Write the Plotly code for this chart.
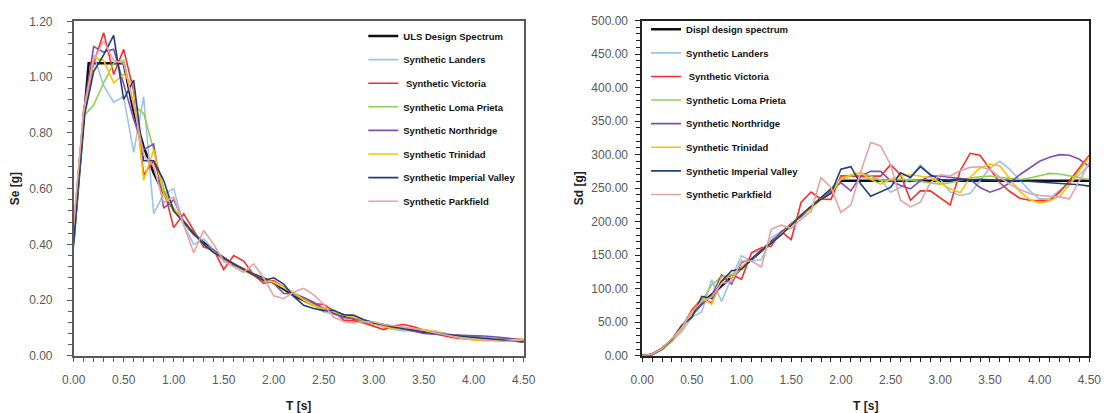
import plotly.graph_objects as go

# ---------------- data ----------------
T_syn = [0.0, 0.1, 0.2, 0.3, 0.4, 0.5, 0.6, 0.7, 0.8, 0.9, 1.0, 1.1, 1.2, 1.3, 1.4, 1.5,
         1.6, 1.7, 1.8, 1.9, 2.0, 2.1, 2.2, 2.3, 2.4, 2.5, 2.6, 2.7, 2.8, 2.9, 3.0, 3.1,
         3.2, 3.3, 3.4, 3.5, 3.6, 3.7, 3.8, 3.9, 4.0, 4.1, 4.2, 4.3, 4.4, 4.5]

T_uls = [0.0, 0.15, 0.5, 0.6, 0.7, 0.8, 0.9, 1.0, 1.2, 1.4, 1.6, 1.8, 2.0, 2.2, 2.4, 2.6,
         2.8, 3.0, 3.25, 3.5, 3.75, 4.0, 4.25, 4.5]
Se_uls = [0.42, 1.05, 1.05, 0.875, 0.75, 0.656, 0.583, 0.525, 0.4375, 0.375, 0.328, 0.292,
          0.2625, 0.217, 0.182, 0.155, 0.134, 0.117, 0.0994, 0.0857, 0.0747, 0.0656, 0.0581, 0.0519]

T_displ = [0.0, 0.05, 0.1, 0.15, 0.2, 0.3, 0.4, 0.5, 2.0, 4.5]
Sd_displ = [0.0, 0.39, 2.09, 5.87, 10.44, 23.5, 41.7, 65.2, 261.0, 261.0]

Se_landers = [0.45, 0.88, 1.08, 0.97, 0.91, 0.93, 0.73, 0.93, 0.51, 0.58, 0.60, 0.47, 0.40, 0.42, 0.38, 0.34,
              0.33, 0.31, 0.29, 0.27, 0.265, 0.245, 0.221, 0.201, 0.184, 0.157, 0.149, 0.147, 0.146, 0.129,
              0.118, 0.102, 0.094, 0.089, 0.091, 0.092, 0.090, 0.082, 0.073, 0.065, 0.059, 0.056, 0.056,
              0.056, 0.056, 0.057]
Se_victoria = [0.45, 0.87, 1.05, 1.16, 1.01, 1.10, 0.95, 0.65, 0.70, 0.60, 0.46, 0.51, 0.45, 0.39, 0.38, 0.31,
               0.36, 0.34, 0.29, 0.26, 0.27, 0.245, 0.223, 0.204, 0.187, 0.184, 0.161, 0.128, 0.126, 0.118,
               0.106, 0.094, 0.108, 0.112, 0.104, 0.092, 0.080, 0.072, 0.065, 0.061, 0.058, 0.055, 0.056,
               0.057, 0.058, 0.059]
Se_loma = [0.39, 0.86, 0.90, 0.98, 1.05, 1.06, 0.90, 0.87, 0.74, 0.60, 0.52, 0.48, 0.44, 0.40, 0.375, 0.35,
           0.33, 0.31, 0.29, 0.275, 0.265, 0.245, 0.227, 0.204, 0.182, 0.169, 0.157, 0.145, 0.133, 0.123,
           0.114, 0.108, 0.103, 0.098, 0.093, 0.088, 0.083, 0.078, 0.073, 0.070, 0.067, 0.065, 0.062,
           0.058, 0.055, 0.052]
Se_northridge = [0.45, 0.88, 1.11, 1.09, 1.10, 0.97, 0.85, 0.74, 0.76, 0.53, 0.56, 0.48, 0.44, 0.40, 0.38, 0.35,
                 0.33, 0.31, 0.29, 0.275, 0.26, 0.224, 0.223, 0.209, 0.192, 0.168, 0.151, 0.137, 0.134, 0.128,
                 0.120, 0.111, 0.104, 0.097, 0.087, 0.080, 0.077, 0.076, 0.075, 0.074, 0.073, 0.071, 0.068,
                 0.065, 0.061, 0.056]
Se_trinidad = [0.47, 0.87, 1.07, 1.06, 0.98, 1.01, 0.97, 0.63, 0.74, 0.58, 0.53, 0.48, 0.44, 0.40, 0.37, 0.35,
               0.33, 0.305, 0.29, 0.27, 0.265, 0.246, 0.227, 0.200, 0.179, 0.169, 0.160, 0.149, 0.138, 0.127,
               0.115, 0.104, 0.095, 0.098, 0.097, 0.094, 0.088, 0.078, 0.068, 0.062, 0.057, 0.055, 0.054,
               0.055, 0.057, 0.059]
Se_imperial = [0.40, 0.85, 1.02, 1.08, 1.15, 0.92, 0.99, 0.70, 0.70, 0.63, 0.52, 0.48, 0.44, 0.40, 0.37, 0.35,
               0.33, 0.31, 0.29, 0.27, 0.28, 0.257, 0.213, 0.181, 0.170, 0.162, 0.163, 0.147, 0.145, 0.129,
               0.118, 0.110, 0.103, 0.097, 0.092, 0.086, 0.081, 0.077, 0.073, 0.069, 0.065, 0.062, 0.059,
               0.056, 0.053, 0.050]
Se_parkfield = [0.47, 0.88, 1.06, 1.13, 1.06, 1.05, 0.90, 0.72, 0.68, 0.55, 0.57, 0.47, 0.37, 0.45, 0.40, 0.34,
                0.32, 0.30, 0.33, 0.28, 0.215, 0.205, 0.229, 0.242, 0.219, 0.184, 0.138, 0.123, 0.118, 0.123,
                0.121, 0.112, 0.108, 0.104, 0.098, 0.091, 0.083, 0.075, 0.069, 0.064, 0.060, 0.057, 0.054,
                0.051, 0.054, 0.057]

Sd_landers = [0, 2.2, 10.7, 21.7, 36.2, 57.8, 65.3, 113.3, 81.1, 116.8, 149.1, 141.3, 143.1, 176.4, 185.1, 190.1,
              209.9, 222.6, 233.5, 242.2, 263.4, 268, 266, 264, 263, 244, 251, 266, 285, 270, 263, 244, 239,
              242, 261, 280, 290, 278, 262, 246, 234, 234, 247, 257, 270, 285]
Sd_victoria = [0, 2.2, 10.4, 25.9, 40.2, 68.3, 85.0, 79.2, 111.3, 120.8, 114.3, 153.4, 161.0, 163.8, 185.1, 173.3,
               229.0, 244.2, 233.5, 233.2, 268.4, 268, 268, 268, 268, 285, 270, 232, 246, 246, 236, 225, 276,
               302, 299, 279, 258, 245, 235, 232, 231, 231, 244, 261, 280, 299]
Sd_loma = [0, 2.1, 8.9, 21.9, 41.7, 65.8, 80.6, 106.0, 117.7, 120.8, 129.2, 144.3, 157.4, 168.0, 182.7, 195.7,
           209.9, 222.6, 233.5, 246.7, 263.4, 268, 273, 268, 261, 262, 263, 262, 260, 258, 256, 258, 262,
           265, 267, 268, 266, 264, 263, 265, 268, 272, 271, 268, 265, 263]
Sd_northridge = [0, 2.2, 11.0, 24.4, 43.7, 60.2, 76.1, 90.1, 120.8, 106.7, 139.2, 144.3, 157.4, 168.0, 185.1, 195.7,
                 209.9, 222.6, 233.5, 246.7, 258.4, 246, 268, 275, 275, 261, 254, 249, 261, 268, 268, 266, 265,
                 263, 251, 244, 249, 258, 270, 280, 290, 296, 300, 299, 293, 282]
Sd_trinidad = [0, 2.2, 10.6, 23.7, 39.0, 62.7, 86.8, 76.7, 117.7, 116.8, 131.7, 144.3, 157.4, 168.0, 180.2, 195.7,
               209.9, 219.1, 233.5, 242.2, 263.4, 270, 273, 263, 256, 263, 268, 270, 268, 266, 258, 249, 243,
               266, 280, 286, 283, 264, 245, 233, 228, 231, 238, 255, 276, 297]
Sd_imperial = [0, 2.1, 10.1, 24.2, 45.7, 57.1, 88.6, 85.3, 111.3, 126.8, 129.2, 144.3, 157.4, 168.0, 180.2, 195.7,
               209.9, 222.6, 233.5, 242.2, 278.3, 282, 256, 238, 244, 251, 273, 266, 282, 270, 263, 262, 263,
               262, 263, 262, 262, 261, 261, 260, 260, 259, 258, 257, 255, 253]
Sd_parkfield = [0, 2.2, 10.5, 25.3, 42.1, 65.2, 80.6, 87.7, 108.1, 110.7, 141.6, 141.3, 132.4, 189.0, 194.8, 190.1,
                203.6, 215.5, 265.7, 251.2, 213.7, 225, 275, 318, 313, 285, 232, 222, 229, 258, 270, 268, 276,
                281, 282, 278, 266, 256, 248, 242, 239, 238, 237, 234, 260, 288]

names = ["Synthetic Landers", " Synthetic Victoria", "Synthetic Loma Prieta", "Synthetic Northridge",
         "Synthetic Trinidad", "Synthetic Imperial Valley", "Synthetic Parkfield"]
colors = ["#9DC3E6", "#FF2A2A", "#92D050", "#7F4FB5", "#FFC000", "#203F7A", "#E6A3A3"]
se_series = [Se_landers, Se_victoria, Se_loma, Se_northridge, Se_trinidad, Se_imperial, Se_parkfield]
sd_series = [Sd_landers, Sd_victoria, Sd_loma, Sd_northridge, Sd_trinidad, Sd_imperial, Sd_parkfield]

# ---------------- figure ----------------
fig = go.Figure()
W, H = 1116, 413

fig.add_trace(go.Scatter(x=T_uls, y=Se_uls, mode="lines", name="<b>ULS Design Spectrum</b>",
                         line=dict(color="#111111", width=2.5), xaxis="x", yaxis="y",
                         legend="legend", legendgroup="a0"))
for i, (nm, c, s) in enumerate(zip(names, colors, se_series)):
    fig.add_trace(go.Scatter(x=T_syn, y=s, mode="lines", name="<b>%s</b>" % nm,
                             line=dict(color=c, width=1.6), xaxis="x", yaxis="y",
                             legend="legend", legendgroup="a%d" % (i + 1)))

fig.add_trace(go.Scatter(x=T_displ, y=Sd_displ, mode="lines", name="<b>Displ design spectrum</b>",
                         line=dict(color="#111111", width=2.5), xaxis="x2", yaxis="y2",
                         legend="legend2", legendgroup="b0"))
for i, (nm, c, s) in enumerate(zip(names, colors, sd_series)):
    fig.add_trace(go.Scatter(x=T_syn, y=s, mode="lines", name="<b>%s</b>" % nm,
                             line=dict(color=c, width=1.6), xaxis="x2", yaxis="y2",
                             legend="legend2", legendgroup="b%d" % (i + 1)))

tickfont = dict(family="Liberation Sans, Arial, sans-serif", size=12, color="#595959")
titlefont = dict(family="Liberation Sans Narrow, Liberation Sans, Arial, sans-serif", size=12, color="#222222")
legfont = dict(family="Liberation Sans Narrow, Liberation Sans, Arial, sans-serif", size=9.5, color="#111111")

def xax(domain, anchor, lc):
    return dict(domain=domain, anchor=anchor, range=[0, 4.5], dtick=0.5, tickformat=".2f",
                showgrid=False, zeroline=False, showline=True, linecolor=lc, linewidth=1.5, mirror=True,
                ticks="outside", ticklen=4, tickcolor=lc, tickwidth=1, ticklabelstandoff=8,
                minor=dict(dtick=0.1, ticks="outside", ticklen=4, tickcolor=lc),
                tickfont=tickfont, title=dict(text="<b>T [s]</b>", font=titlefont, standoff=16))

def yax(domain, anchor, rng, dt, mdt, lc, title, so, lso):
    return dict(domain=domain, anchor=anchor, range=rng, dtick=dt, tickformat=".2f",
                showgrid=False, zeroline=False, showline=True, linecolor=lc, linewidth=1.5, mirror=True,
                ticks="outside", ticklen=5, tickcolor=lc, tickwidth=1, ticklabelstandoff=lso,
                minor=dict(dtick=mdt, ticks="outside", ticklen=4, tickcolor=lc),
                tickfont=tickfont, title=dict(text="<b>%s</b>" % title, font=titlefont, standoff=so))

ybot = (H - 361) / H
fig.update_layout(
    width=W, height=H, margin=dict(l=0, r=0, t=0, b=0),
    paper_bgcolor="white", plot_bgcolor="white",
    xaxis=xax([63 / W, 523 / W], "y", "#595959"),
    yaxis=yax([ybot, (H - 15) / H], "x", [0, 1.2], 0.2, 0.04, "#595959", "Se [g]", 7, 12),
    xaxis2=xax([644 / W, 1101 / W], "y2", "#222222"),
    yaxis2=yax([ybot, (H - 14) / H], "x2", [0, 500], 50, 10, "#222222", "Sd [g]", 5, 5),
    legend=dict(x=359 / W, y=(H - 15) / H, xanchor="left", yanchor="top", font=legfont,
                bgcolor="rgba(0,0,0,0)", tracegroupgap=4.6, itemwidth=30),
    legend2=dict(x=648 / W, y=(H - 8) / H, xanchor="left", yanchor="top", font=legfont,
                 bgcolor="rgba(0,0,0,0)", tracegroupgap=4.6, itemwidth=30),
)

fig.write_html("out.html")
